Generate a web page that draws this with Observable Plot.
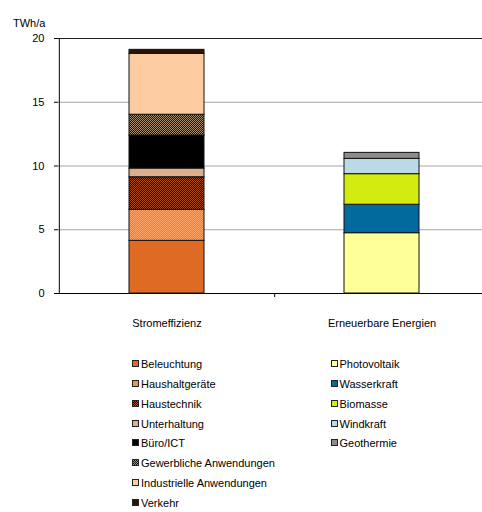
<!DOCTYPE html>
<html>
<head>
<meta charset="utf-8">
<script src="https://cdn.jsdelivr.net/npm/d3@7"></script>
<script src="https://cdn.jsdelivr.net/npm/@observablehq/plot@0.6"></script>
<style>
  body { margin: 0; background: #fff; font-family: "Liberation Sans", Arial, sans-serif; }
  #chart { position: relative; width: 482px; height: 512px; overflow: hidden; }
  #chart svg.plot { position: absolute; left: 0; top: 0; }
  .leg { position: absolute; font-size: 11px; color: #000; white-space: nowrap; line-height: 12px; }
  .leg svg { position: absolute; left: -9px; top: 2px; }
  pattern rect { shape-rendering: crispEdges; }
</style>
</head>
<body>
<!-- fill patterns shared by bars and legend swatches -->
<svg width="0" height="0" style="position:absolute">
  <defs>
    <pattern id="pHaushalt" width="2" height="2" patternUnits="userSpaceOnUse">
      <rect width="2" height="2" fill="#f07a38"/>
      <rect width="1" height="1" fill="#ffa466"/>
      <rect x="1" y="1" width="1" height="1" fill="#ffa466"/>
    </pattern>
    <pattern id="pHaustechnik" width="2" height="2" patternUnits="userSpaceOnUse">
      <rect width="2" height="2" fill="#0e0400"/>
      <rect width="1" height="1" fill="#a84a16"/>
      <rect x="1" y="1" width="1" height="1" fill="#a84a16"/>
    </pattern>
    <pattern id="pGewerbe" width="2" height="2" patternUnits="userSpaceOnUse">
      <rect width="2" height="2" fill="#1c140c"/>
      <rect width="1" height="1" fill="#a88e70"/>
      <rect x="1" y="1" width="1" height="1" fill="#a88e70"/>
    </pattern>
  </defs>
</svg>
<div id="chart"></div>
<script>
// Categories on the x axis
const categories = ["Stromeffizienz", "Erneuerbare Energien"];

// Electricity-efficiency potentials (TWh/a), bottom to top
const effizienzSegmente = ["Beleuchtung", "Haushaltgeräte", "Haustechnik", "Unterhaltung",
  "Büro/ICT", "Gewerbliche Anwendungen", "Industrielle Anwendungen", "Verkehr"];
const effizienzWerte = [4.13, 2.43, 2.56, 0.68, 2.59, 1.63, 4.78, 0.31];

// Renewable-energy potentials (TWh/a), bottom to top
const erneuerbarSegmente = ["Photovoltaik", "Wasserkraft", "Biomasse", "Windkraft", "Geothermie"];
const erneuerbarWerte = [4.73, 2.23, 2.40, 1.20, 0.47];

// Value axis
const yTicks = [0, 5, 10, 15, 20];
const yGrid = [5, 10, 15];
const yTop = 20;
const yLabel = "TWh/a";

// Fill for each segment
const fills = {
  "Beleuchtung": "#df6a24",
  "Haushaltgeräte": "url(#pHaushalt)",
  "Haustechnik": "url(#pHaustechnik)",
  "Unterhaltung": "#ddae8b",
  "Büro/ICT": "#000000",
  "Gewerbliche Anwendungen": "url(#pGewerbe)",
  "Industrielle Anwendungen": "#fccb9f",
  "Verkehr": "#2a1408",
  "Photovoltaik": "#ffff99",
  "Wasserkraft": "#036a9e",
  "Biomasse": "#d3eb0f",
  "Windkraft": "#bcd9e7",
  "Geothermie": "#8c8c8c"
};

const rows = [
  ...effizienzSegmente.map((s, i) => ({category: categories[0], segment: s, value: effizienzWerte[i]})),
  ...erneuerbarSegmente.map((s, i) => ({category: categories[1], segment: s, value: erneuerbarWerte[i]}))
];

const xRange = [58.3, 489];
const step = (xRange[1] - xRange[0]) / categories.length;

const plot = Plot.plot({
  width: 482,
  height: 340,
  marginTop: 38,
  marginBottom: 47,
  marginLeft: 58,
  marginRight: 0,
  style: {fontFamily: "'Liberation Sans', Arial, sans-serif", fontSize: "11px", color: "#000", background: "transparent", overflow: "visible"},
  x: {domain: categories, range: xRange, paddingInner: 0.652, paddingOuter: 0.326},
  y: {domain: [0, yTop]},
  color: {type: "identity"},
  marks: [
    Plot.ruleY(yGrid, {stroke: "#a6a6a6", strokeWidth: 1}),
    Plot.ruleY([yTop], {stroke: "#222", strokeWidth: 1.2}),
    Plot.barY(rows, Plot.stackY({
      x: "category", y: "value", fill: d => fills[d.segment], z: "segment",
      stroke: "#111", strokeWidth: 1
    })),
    Plot.ruleY([0], {stroke: "#000", strokeWidth: 1}),
    // value axis line
    Plot.ruleX([categories[0]], {y1: 0, y2: yTop, dx: -step / 2, stroke: "#000"}),
    // tick between the two categories
    Plot.ruleX([categories[0]], {y1: 0, y2: 0, insetBottom: -4, dx: step / 2, stroke: "#000"}),
    Plot.axisY({ticks: yTicks, tickSize: 4, tickPadding: 10, label: null, fontSize: 11}),
    Plot.axisX({tickSize: 0, tickPadding: 26, label: null, fontSize: 11}),
    Plot.text([yLabel], {frameAnchor: "top-left", dx: -45.5, dy: -15, textAnchor: "start", lineAnchor: "middle", fontSize: 11})
  ]
});

const chart = document.getElementById("chart");
chart.appendChild(plot);

// Legend: two columns below the chart
const leftItems = effizienzSegmente;
const rightItems = erneuerbarSegmente;
const rowTop = 358, rowStep = 19.85;
function addItem(name, left, i) {
  const el = document.createElement("div");
  el.className = "leg";
  el.style.left = left + "px";
  el.style.top = (rowTop + i * rowStep) + "px";
  el.innerHTML = `<svg width="7" height="7"><rect x="0.5" y="0.5" width="6" height="6" fill="${fills[name]}" stroke="#222"/></svg>`;
  el.appendChild(document.createTextNode(name));
  chart.appendChild(el);
}
leftItems.forEach((n, i) => addItem(n, 141, i));
rightItems.forEach((n, i) => addItem(n, 339.5, i));
</script>
</body>
</html>
